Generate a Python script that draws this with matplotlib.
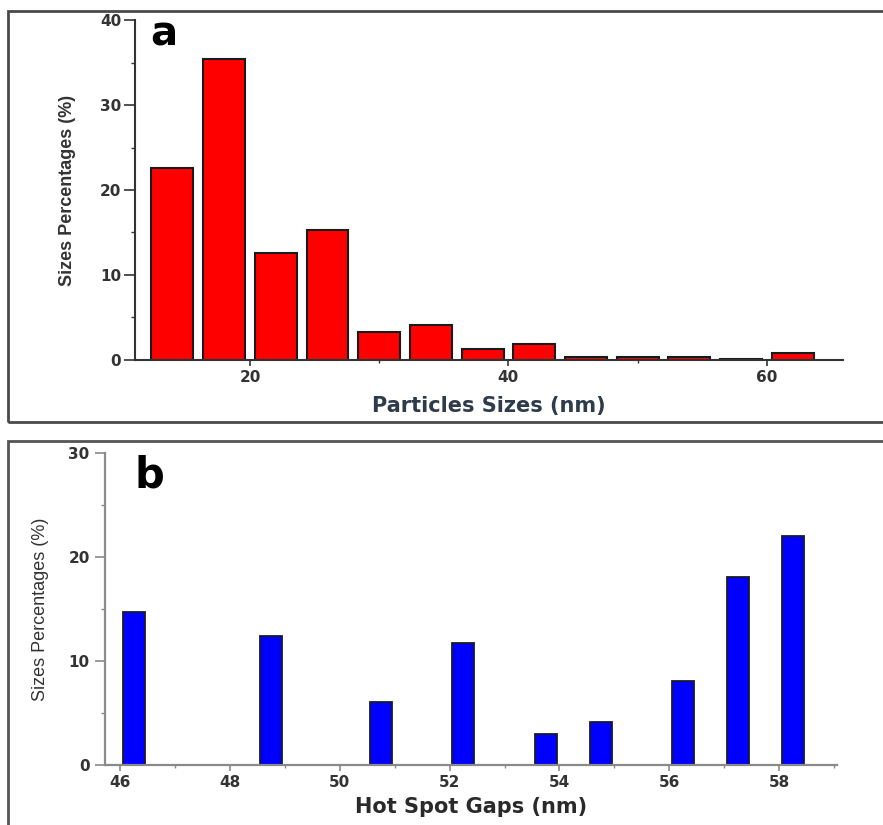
import matplotlib
matplotlib.use("Agg")
import matplotlib.pyplot as plt
from matplotlib.patches import Rectangle
from matplotlib.ticker import MultipleLocator

# ---- data ----
sizes_a = [14, 18, 22, 26, 30, 34, 38, 42, 46, 50, 54, 58, 62]
pct_a = [22.6, 35.4, 12.6, 15.3, 3.3, 4.1, 1.3, 1.9, 0.3, 0.3, 0.3, 0.1, 0.8]
xticks_a = [20, 40, 60]
yticks_a = [0, 10, 20, 30, 40]

gaps_b = [46.25, 48.75, 50.75, 52.25, 53.75, 54.75, 56.25, 57.25, 58.25]
pct_b = [14.7, 12.4, 6.1, 11.7, 2.95, 4.15, 8.1, 18.05, 22.05]
xticks_b = [46, 48, 50, 52, 54, 56, 58]
yticks_b = [0, 10, 20, 30]

W, H = 883, 825
fig = plt.figure(figsize=(W / 100, H / 100), dpi=100)
fig.patch.set_facecolor("white")

def fx(px):
    return px / W

def fy(py):
    return 1 - py / H

# panel frames
fig.add_artist(Rectangle((fx(8), fy(422)), fx(950), (422 - 11) / H,
                         transform=fig.transFigure, fill=False,
                         edgecolor="#4a4a4a", linewidth=2.0, clip_on=False))
fig.add_artist(Rectangle((fx(8), fy(900)), fx(950), (900 - 441) / H,
                         transform=fig.transFigure, fill=False,
                         edgecolor="#555555", linewidth=2.0, clip_on=False))

# ---- panel a ----
axa = fig.add_axes([fx(135), fy(360), fx(843 - 135), (360 - 20) / H])
axa.bar(sizes_a, pct_a, width=3.25, color="#ff0000", edgecolor="#1a1a1a",
        linewidth=1.5)
axa.set_xlim(11.1, 65.9)
axa.set_ylim(0, 40)
axa.set_xticks(xticks_a)
axa.set_yticks(yticks_a)
axa.xaxis.set_minor_locator(MultipleLocator(10))
axa.yaxis.set_minor_locator(MultipleLocator(5))
for s in ["top", "right"]:
    axa.spines[s].set_visible(False)
for s in ["left", "bottom"]:
    axa.spines[s].set_color("#333333")
    axa.spines[s].set_linewidth(1.5)
axa.tick_params(axis="y", which="major", length=8, width=1.2, color="#333333",
                pad=2, labelsize=11, labelcolor="#333333")
axa.tick_params(axis="y", which="minor", length=3, width=1.0, color="#333333")
axa.tick_params(axis="x", which="major", length=4, width=1.2, color="#333333",
                pad=3, labelsize=11, labelcolor="#333333")
axa.tick_params(axis="x", which="minor", length=2, width=1.0, color="#333333")
for lab in axa.get_xticklabels() + axa.get_yticklabels():
    lab.set_fontfamily("DejaVu Sans")
    lab.set_fontweight("bold")
axa.set_ylabel("Sizes Percentages (%)", family="Liberation Sans",
               fontweight="bold", fontsize=13, color="#333333", labelpad=17)
axa.set_xlabel("Particles Sizes (nm)", family="DejaVu Sans", fontweight="bold",
               fontsize=15, color="#2e3b4a", labelpad=8)
fig.text(fx(150), fy(45), "a", family="DejaVu Sans", fontweight="bold",
         fontsize=29, color="black", va="baseline", ha="left")

# ---- panel b ----
axb = fig.add_axes([fx(105), fy(765), fx(837 - 105), (765 - 453.3) / H])
axb.bar(gaps_b, pct_b, width=0.4, color="#0000ff", edgecolor="#1a1a2a",
        linewidth=1.3)
axb.set_xlim(45.73, 59.05)
axb.set_ylim(0, 30)
axb.set_xticks(xticks_b)
axb.set_yticks(yticks_b)
axb.xaxis.set_minor_locator(MultipleLocator(1))
axb.yaxis.set_minor_locator(MultipleLocator(5))
for s in ["top", "right"]:
    axb.spines[s].set_visible(False)
for s in ["left", "bottom"]:
    axb.spines[s].set_color("#8a8a8a")
    axb.spines[s].set_linewidth(1.6)
axb.tick_params(axis="y", which="major", length=7, width=1.2, color="#8a8a8a",
                pad=4, labelsize=11, labelcolor="#333333")
axb.tick_params(axis="y", which="minor", length=3, width=1.0, color="#8a8a8a")
axb.tick_params(axis="x", which="major", length=4, width=1.2, color="#8a8a8a",
                pad=3, labelsize=11, labelcolor="#333333")
axb.tick_params(axis="x", which="minor", length=2, width=1.0, color="#8a8a8a")
for lab in axb.get_xticklabels() + axb.get_yticklabels():
    lab.set_fontfamily("DejaVu Sans")
    lab.set_fontweight("bold")
axb.set_ylabel("Sizes Percentages (%)", family="Liberation Sans",
               fontsize=13, color="#333333", labelpad=14)
axb.set_xlabel("Hot Spot Gaps (nm)", family="DejaVu Sans", fontweight="bold",
               fontsize=15, color="#2a2a2a", labelpad=5)
fig.text(fx(135), fy(488), "b", family="DejaVu Sans", fontweight="bold",
         fontsize=30, color="black", va="baseline", ha="left")

fig.savefig("out.png", dpi=100, facecolor="white")
